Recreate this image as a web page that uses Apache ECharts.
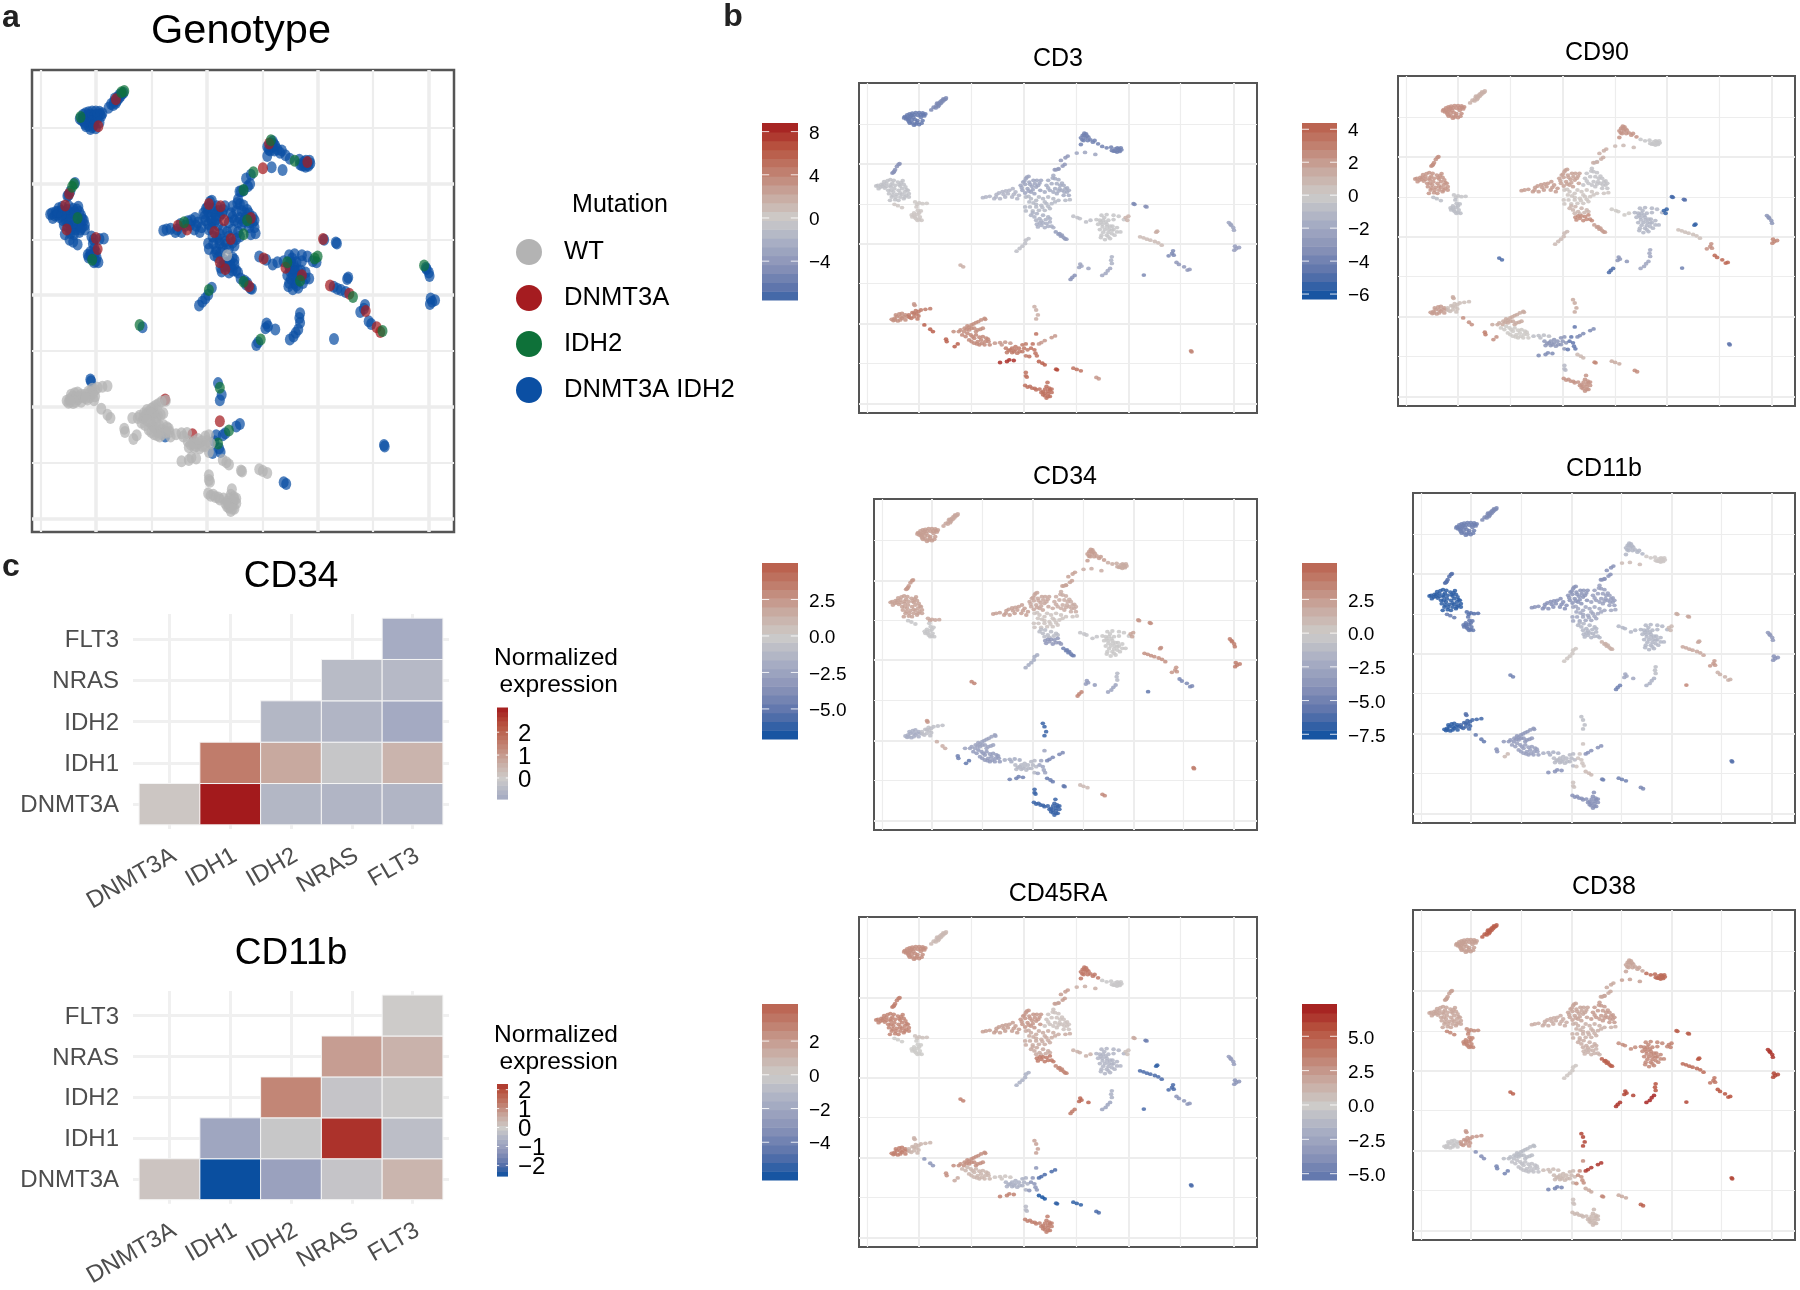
<!DOCTYPE html>
<html><head><meta charset="utf-8">
<style>html,body{margin:0;padding:0;background:#fff}#c{width:1800px;height:1290px}</style>
<script src="https://cdn.jsdelivr.net/npm/echarts@6/dist/echarts.min.js"></script>
</head><body><div id="c"></div>
<script>
// UMAP cell groups: flat x,y pairs (UMAP axes use the same units)
const clusterPoints = [
/*A1*/[598,232,590,235,585,240,580,245,575,250,570,255,562,260,555,268,583,248,575,258,592,238,588,243,578,253,568,262,596,236,572,248],
/*A2*/[478,288,485,283,492,280,500,278,510,276,520,276,530,277,538,280,482,295,490,293,498,298,490,303,500,307,510,310,520,312,527,308,503,290,525,290,535,286,515,300,495,288,485,290,506,283,516,284,532,282,493,308,505,314,514,306,530,300,497,284,476,292,524,283,508,297,488,298],
/*B1*/[460,432,455,438,447,453,442,458,450,448,463,430,445,456],
/*B2*/[395,497,402,505,410,492,418,484,425,490,436,478,442,488,450,495,458,485,468,487,475,492,480,500,487,510,490,520,478,515,470,505,460,510,448,505,438,500,430,510,420,503,432,520,440,530,435,540,450,538,465,530,475,535,490,530,455,522,445,515,408,500,465,497,400,495,414,498,428,481,437,494,446,480,462,493,472,481,483,508,465,518,452,530,438,510,426,498,470,522,482,525,443,524,478,530,460,540,416,492],
/*B3a*/[508,545,520,548,530,550,542,549,514,552],
/*B3b*/[448,552,458,556,470,562,512,560,516,570,525,572,505,578,515,582,522,590,500,590,510,595,520,598,527,600,505,585,520,578,508,590,515,600,498,584],
/*Carm*/[705,532,714,530,725,528,738,535,745,522,752,518,762,514,772,512,782,510,792,505,800,515,810,525,770,530,755,535,790,530,805,535,765,522,778,520,795,522,743,530],
/*Cup*/[838,468,830,475,822,485,815,495,828,492,840,485,852,480,862,480,870,488,848,498,835,505,860,500,820,510,845,515,872,510,855,520,833,470,826,482,842,492,818,502,856,490,866,495,838,512,828,518,850,508,874,480],
/*Cupr*/[925,445,918,448,910,465,915,475,925,478,895,480,905,490,890,495,930,495,940,495,945,505,950,515,955,525,935,510,915,505,900,510,885,515,920,520,940,525,920,490,908,473,935,488,928,505,950,503,910,515,895,503,955,510,942,515,925,512],
/*Cmid*/[830,530,845,535,860,540,880,535,895,530,910,535,925,540,945,540,905,550,890,550,875,555,860,560,840,545,828,560,830,572,850,572,868,570,885,570,900,565,838,528,852,548,868,530,885,545,915,545,895,558,878,562,842,560,860,552,958,538],
/*Clow*/[845,585,855,590,860,600,870,595,880,585,895,590,850,578,862,580,875,602,888,598,900,595],
/*Clow2*/[900,605,890,610,875,615,865,620,885,622,905,618,870,608,880,608,895,618,910,622,862,612],
/*Cdiag*/[917,635,925,642,932,648,940,652,948,657,935,645,928,640,944,656],
/*Ctail*/[952,407,945,412,932,420,943,432,937,437,925,446,914,448],
/*T1*/[1000,338,1005,340,995,345,990,352,1003,352,1012,350,998,360,990,372,1010,360,1025,365,1030,360,1040,370,1000,345,1008,346,994,358,1018,358],
/*T2*/[1052,378,1065,382,1078,380,1080,390,1090,385,1100,385,1108,388,1095,395,1085,392,1103,393,1096,382,1106,382,1090,392,1100,390],
/*T3*/[978,398,1002,396,1032,402],
/*D0*/[968,588,980,592,987,595,1005,605,1018,600],
/*D1*/[1050,585,1065,583,1085,585,1035,598,1045,600,1055,600,1070,600,1085,598,1040,612,1052,612,1065,612,1082,618,1045,628,1060,628,1072,628,1085,628,1095,622,1050,645,1065,645,1080,640,1095,635,1105,635,1060,658,1075,655,1058,592,1048,606,1062,606,1075,618,1053,620,1066,620,1080,630,1055,636,1070,637,1088,645,1048,652,1070,650,1100,588,1115,598],
/*D2*/[1128,588,1120,592,1125,600],
/*E1*/[1143,550,1146,552],
/*E2*/[1178,558,1181,560],
/*F*/[1212,633,1209,636],
/*G*/[1162,650,1172,653,1182,657,1192,660,1205,664,1215,668,1225,675],
/*H*/[1258,692,1255,700,1245,707,1260,705],
/*I*/[1268,727,1275,733,1290,740,1300,750,1306,748],
/*J1*/[1420,607,1427,615,1433,622,1435,630,1425,612],
/*J2*/[1438,678,1442,685,1450,682,1436,690],
/*K*/[838,655,830,660,828,670,820,678,812,685,803,693],
/*L*/[640,735,648,740],
/*M1*/[988,732,992,738,985,742,1012,745],
/*M2*/[972,766,965,772,960,778],
/*N1*/[1080,710,1078,720,1080,730],
/*N2*/[1075,745,1068,752,1062,760,1052,766],
/*O*/[1173,765],
/*P0*/[505,852,507,856],
/*P1*/[440,898,448,895,455,890,462,882,470,880,480,885,470,895,458,903,480,900,445,902,452,885,465,890,475,890,465,900,486,890,450,900],
/*P2*/[490,885,500,878,510,872,518,875,525,870,538,868,552,866,505,890,515,897,497,895,505,880,512,882,518,888,492,892],
/*Q*/[535,915,552,928,560,935],
/*R1*/[598,958,600,965],
/*R2*/[623,980,632,972],
/*S1*/[710,895,700,900,685,908,672,915,660,918,652,925,635,935,620,935,650,935,665,930,680,925,690,930,705,925,692,905,678,912,665,922,640,930,658,928,672,925,698,928,685,935,712,898],
/*S2*/[645,945,655,950,670,945,680,955,690,965,705,950,715,955,722,965,710,975,695,975,680,970,725,975,700,960,665,960,660,940,675,950,685,945,695,952,712,965,702,970,688,972,720,958,672,965],
/*U*/[740,970,755,968,770,967,785,970,760,975],
/*V*/[772,985,780,992,790,985,800,990,810,985,820,975,830,972,775,998,790,998,805,1000,820,995,835,990,830,1008,785,990,795,995,812,995,825,985,800,980],
/*W*/[755,1028,775,1025,782,1020,795,1022],
/*X*/[860,942,850,972,845,985,855,990,858,1000,840,1010,862,1008],
/*Y*/[915,948,905,953,885,962,875,968,868,972],
/*Z*/[855,860,860,870,865,885,860,897],
/*a1*/[868,1025,878,1030,885,1035],
/*a2*/[918,1048,921,1050],
/*a3*/[968,1045,978,1049,990,1053],
/*a4*/[1035,1073,1042,1077],
/*b*/[1310,993,1312,996],
/*c1*/[830,1058,830,1068,833,1072],
/*c2*/[828,1097,835,1102,848,1105,860,1110,870,1108,880,1115,893,1088,890,1100,900,1110,905,1118,895,1122,885,1128,890,1135,900,1130,880,1125,898,1105,886,1108,894,1114,885,1120,895,1130,905,1108,875,1118,842,1100,856,1106]
];
// Genotype of each point (W=WT R=DNMT3A G=IDH2 B=DNMT3A IDH2); the last letter carries on to the remaining points of a group
const genotypeCodes = [
"GGBBRBBBBBB","GBBBBBBBBBBBBBBRBBB","GGRBB","BBBBBRBBBBBBBBBGBBBBBBRBBBBBBBBB","BRB","BBBBBRBBBBGBBB",
"BBBBRBGBBBBBRBBB","BRBBBBBRBBBBBBRB","GBBBBBBBBBRBBGBBBBB","BRBBBBGBBRBBBBBBBBB","BBRBWB","BBRBBBB","BGBRBB","GBBBB",
"GBRBBBBBBBBB","BGBBBRBBBB","RBB","BRBBB","BBBBGBBBRBBBBBBRBBBGBBBB","GGB","RB","BB","BB","RBBBBRG","BBBR","BBRRG","GBBBB","BBBB","BGBBBB","GB","BBBB","GBB","BBB","BBBB","B",
"BB","W","W","W","W","W","RW","WWWWWWWWBW","WWWRW","W","W","RBBGBBB","BBGBB","BGBB","W","W","W","BB","BB","W","W"
];
// Marker expression per cell group, same order as clusterPoints
const CD3vals   = [-5,-6,-4.5,-.8,.2,.3,-1.8,-3,-2.5,-1.5,-2,-2.2,-3.8,-4,-5.5,-5.5,-3,-1,-.5,1.5,-5,-4.5,2,1,-5,-4,-3,-3.5,-1,1.8,-3,-4.5,-2,-2.8,-5,3,3.5,4.5,6,6,6,3.5,3.8,3,4.5,8,5,3,1.8,6,7,5,3,4,5,5];
const CD90vals  = [1.2,2.4,2.5,2.2,-.4,-.8,2,1.8,-.5,.3,1,2.6,2,1.3,2.3,-.3,.8,.1,-1.2,-5.5,-5.2,-4.8,-5.5,.6,2.4,4,-3,2.8,.8,-5,-3,-5,-2,-2.2,-4,1.5,2,.6,2.5,3.2,2.5,1.5,.1,-.8,-3,-3.5,-4.5,-3.5,1.5,.9,2.8,1.5,2.6,-4.5,-1,2.3];
const CD34vals  = [1.8,2.2,2.4,2,1.8,-.4,2.1,1.8,1.5,.4,-1,-3.2,-4.5,2,2.2,1.6,1.5,-.5,-.2,2,2.5,2.8,2.8,2.8,2.5,-4,3.5,3.5,-2,3.2,-3,3.2,-1.2,-2.5,-5,2.5,-1.8,-.8,1.5,-4.5,-5,-2.5,-3,-2,-1.2,-4.5,-2.5,-4,-6,-4.8,-5,1,3,3.5,-6,-6];
const CD11bvals = [-4.5,-5,-6,-7,-6,-5.5,-4,-3.8,-3,-2.5,-1.5,-1.5,1.5,-4,-1.5,.2,.9,-1.5,-1.5,1,1.8,2,2,2,2.6,1.5,-3.5,-4,.3,-5,-2.5,-5,-1,-1.8,3.5,-6,-7,-6.5,-5.5,-4,1,-3.5,-3,-2,-1.2,-4,.5,-4,-1,1,-5,-5,-4.5,-6,.5,-4];
const CD45RAvals= [.8,2.5,3,2.8,.5,0,1.9,2.2,.4,1.4,1.5,3.2,2.8,2,3.3,-.2,1.3,1.2,-1.2,.5,1.5,-4,-5.5,-5,-5,-3,-2.5,-3,-1.5,3,4,3.2,-1.5,-2.2,-5,1.2,3,1,-3,2.5,1.5,2.5,1,.3,-1.5,3,-3,-5,1.8,-6,-5.5,-5.5,-5,-5,-1,3];
const CD38vals  = [5,2.2,2.2,1.9,3,3.3,1.6,2,2.4,1.4,1.5,1.2,5,1.8,2,4.5,2.2,3,3.2,3.5,5,5,5.5,4.5,4,5.5,6.5,6,.3,5,6,6.5,5.5,7,6,2.5,-.3,2.5,-4,-4.5,-4.5,-1,-.7,.8,1,-4.5,3,6.5,6,1.8,3.2,1.8,5,6,.5,1];
// UMAP axes
const umapXMajor=[520,825,1129,1433], umapXMinor=[369,672,977,1280];
const umapYMajor=[431,670,911,1152], umapYMinor=[311,551,791,1031];
// Mutation legend
const mutationNames=["WT","DNMT3A","IDH2","DNMT3A IDH2"];
const mutationCodes=["W","R","G","B"];
const mutationColors=["#B3B3B3","#A51C20","#0E7139","#0B4FA3"];
// Heatmaps
const genes=["DNMT3A","IDH1","IDH2","NRAS","FLT3"];
const heatCD34=[[0,0,.1],[1,0,3.08],[2,0,-.55],[3,0,-.6],[4,0,-.6],[1,1,1.55],[2,1,.75],[3,1,-.15],[4,1,.5],[2,2,-.55],[3,2,-.6],[4,2,-.9],[3,3,-.45],[4,3,-.5],[4,4,-.85]];
const heatCD11b=[[0,0,.12],[1,0,-2.56],[2,0,-.95],[3,0,-.15],[4,0,.4],[1,1,-.85],[2,1,-.1],[3,1,2.3],[4,1,-.3],[2,2,1.15],[3,2,-.15],[4,2,-.05],[3,3,.8],[4,3,.45],[4,4,0]];
// Colour bar limits and ticks [low, high], tick values
const barCD3=[-7.6,8.8], ticksCD3=[-4,0,4,8];
const barCD90=[-6.3,4.38], ticksCD90=[-6,-4,-2,0,2,4];
const barCD34=[-7.06,5], ticksCD34=[-5,-2.5,0,2.5];
const barCD11b=[-7.85,5.2], ticksCD11b=[-7.5,-5,-2.5,0,2.5];
const barCD45RA=[-6.24,4.2], ticksCD45RA=[-4,-2,0,2];
const barCD38=[-5.46,7.35], ticksCD38=[-5,-2.5,0,2.5,5];
const barHeat34=[-.92,3.08], ticksHeat34=[0,1,2];
const barHeat11b=[-2.56,2.3], ticksHeat11b=[-2,-1,0,1,2];

const REDS=[[205,203,201],[200,168,158],[192,125,108],[184,84,64],[163,26,28]];
const BLUES=[[205,203,201],[169,175,196],[138,147,184],[90,114,171],[10,79,160]];
function scaleColor(v,lim){
  const s=v>=0?REDS:BLUES; const t=Math.min(1,Math.abs(v)/lim)*4; const i=Math.min(3,Math.floor(t)); const f=t-i;
  const c=[0,1,2].map(k=>Math.round(s[i][k]+(s[i+1][k]-s[i][k])*f));
  return `rgb(${c[0]},${c[1]},${c[2]})`;
}
const minus=s=>String(s).replace('-','\u2212');
const grid=[],xAxis=[],yAxis=[],series=[],graphic=[];
const FONT='"Liberation Sans",Arial,sans-serif';
function txt(t,x,y,size,opt){opt=opt||{};graphic.push({type:'text',z:50,style:{text:t,x,y,fill:opt.fill||'#000',textAlign:opt.align||'center',textVerticalAlign:'middle',font:`${opt.weight||'normal'} ${size}px ${FONT}`}});}
function addAxis(list,gi,base){const idx=list.length;list.push(Object.assign({gridIndex:gi,type:'value',axisLine:{show:false},axisTick:{show:false},axisLabel:{show:false},splitLine:{show:false}},base));return idx;}
function umapGrid(rect,mw,nw,bw){
  const gi=grid.length;
  grid.push({left:rect[0],top:rect[1],width:rect[2]-rect[0],height:rect[3]-rect[1],show:true,borderColor:'#555',borderWidth:bw,backgroundColor:'#fff'});
  const gl=(w)=>({show:true,lineStyle:{color:'#EDEDED',width:w}});
  const xr={min:345,max:1502},yr={min:187,max:1180,inverse:true};
  const x0=addAxis(xAxis,gi,Object.assign({},xr,{axisTick:{show:false,customValues:umapXMajor},splitLine:gl(mw)}));
  addAxis(xAxis,gi,Object.assign({},xr,{axisTick:{show:false,customValues:umapXMinor},splitLine:gl(nw)}));
  const y0=addAxis(yAxis,gi,Object.assign({},yr,{axisTick:{show:false,customValues:umapYMajor},splitLine:gl(mw)}));
  addAxis(yAxis,gi,Object.assign({},yr,{axisTick:{show:false,customValues:umapYMinor},splitLine:gl(nw)}));
  return [x0,y0];
}
function colorBar(rect,lim,ticks,fs,dec,scaleLim,gap){
  const gi=grid.length;
  grid.push({left:rect[0],top:rect[1],width:rect[2]-rect[0],height:rect[3]-rect[1]});
  const x=addAxis(xAxis,gi,{min:0,max:1});
  const y=addAxis(yAxis,gi,{min:lim[0],max:lim[1]});
  const N=20,bands=[];
  for(let i=0;i<N;i++){const lo=lim[0]+(lim[1]-lim[0])*i/N,hi=lim[0]+(lim[1]-lim[0])*(i+1)/N;bands.push([lo,hi,scaleColor((lo+hi)/2,scaleLim)]);}
  series.push({type:'custom',xAxisIndex:x,yAxisIndex:y,silent:true,clip:false,encode:{y:[0,1]},data:bands,
    renderItem:(p,api)=>{const a=api.coord([0,api.value(0)]),b=api.coord([1,api.value(1)]);
      return {type:'rect',shape:{x:a[0],y:b[1],width:b[0]-a[0],height:a[1]-b[1]+.6},style:{fill:bands[p.dataIndex][2]}};}});
  series.push({type:'custom',xAxisIndex:x,yAxisIndex:y,silent:true,clip:false,z:3,encode:{y:0},data:ticks.map(t=>[t]),
    renderItem:(p,api)=>{const a=api.coord([0,api.value(0)]),b=api.coord([1,api.value(0)]);const L=(b[0]-a[0])/5;
      const st={stroke:'#fff',lineWidth:1,fill:'none',opacity:.85};
      const v=api.value(0);
      return {type:'group',children:[
        {type:'line',shape:{x1:a[0],y1:a[1],x2:a[0]+L,y2:a[1]},style:st},
        {type:'line',shape:{x1:b[0]-L,y1:a[1],x2:b[0],y2:a[1]},style:st},
        {type:'text',style:{text:minus(dec?v.toFixed(dec):v),x:b[0]+gap,y:a[1]+2,fill:'#000',textAlign:'left',textVerticalAlign:'middle',font:`${fs}px ${FONT}`}}
      ]};}});
}
function markerPanel(name,vals,rect,tx,ty,barRect,lim,ticks,dec){
  const [x,y]=umapGrid(rect,2,1.2,2);
  const maxAbs=Math.max(Math.abs(lim[0]),Math.abs(lim[1]));
  const data=[];
  clusterPoints.forEach((pts,c)=>{for(let i=0;i<pts.length;i+=2)data.push([pts[i],pts[i+1],vals[c]]);});
  series.push({type:'scatter',xAxisIndex:x,yAxisIndex:y,symbolSize:[4.6,3.8],silent:true,z:4,data,
    itemStyle:{opacity:.85,color:p=>scaleColor(p.value[2],maxAbs)}});
  txt(name,tx,ty,25);
  colorBar(barRect,lim,ticks,19,dec,maxAbs,11);
}
// Panel a
(function(){
  const [x,y]=umapGrid([32,70,454,532],3.5,2.2,2.5);
  const zs={B:4,R:5,G:5,W:6};
  const codeAt=(c,k)=>{const s=genotypeCodes[c];return s[Math.min(k,s.length-1)];};
  mutationNames.forEach((nm,m)=>{
    const data=[];
    clusterPoints.forEach((pts,c)=>{for(let i=0;i<pts.length;i+=2){if(codeAt(c,i/2)===mutationCodes[m])data.push([pts[i],pts[i+1]]);}});
    series.push({name:nm,type:'scatter',xAxisIndex:x,yAxisIndex:y,symbolSize:[10,12],silent:true,z:zs[mutationCodes[m]],data,itemStyle:{color:mutationColors[m],opacity:.72}});
  });
})();
txt('Genotype',241,32,41.5);
txt('Mutation',620,205,25);
txt('a',11,18,32,{weight:'bold',fill:'#222'});
txt('b',733,17,32,{weight:'bold',fill:'#222'});
txt('c',11,567,32,{weight:'bold',fill:'#222'});
// Panel b
markerPanel('CD3',CD3vals,[859,83,1257,413],1058,59,[762,123,798,300],barCD3,ticksCD3,0);
markerPanel('CD90',CD90vals,[1398,76,1795,406],1597,53,[1302,123,1337,299],barCD90,ticksCD90,0);
markerPanel('CD34',CD34vals,[874,499,1257,830],1065,477,[762,563,798,739],barCD34,ticksCD34,1);
markerPanel('CD11b',CD11bvals,[1413,493,1795,823],1604,469,[1302,563,1337,739],barCD11b,ticksCD11b,1);
markerPanel('CD45RA',CD45RAvals,[859,917,1257,1247],1058,894,[762,1004,798,1180],barCD45RA,ticksCD45RA,0);
markerPanel('CD38',CD38vals,[1413,910,1795,1240],1604,887,[1302,1004,1337,1180],barCD38,ticksCD38,1);
// Panel c
function heatPanel(name,vals,top,ty,barRect,lim,ticks,ny){
  const gi=grid.length;
  grid.push({left:133,top,width:316,height:215});
  const gl={show:true,lineStyle:{color:'#F0F0F0',width:3}};
  const x=addAxis(xAxis,gi,{min:-.6,max:4.6,axisTick:{show:false,customValues:[0,1,2,3,4]},splitLine:gl,
    axisLabel:{show:true,customValues:[.08,1.08,2.08,3.08,4.08],color:'#4D4D4D',fontSize:24,fontFamily:FONT,margin:25,rotate:30,formatter:v=>genes[Math.round(v)]}});
  const y=addAxis(yAxis,gi,{min:-.6,max:4.6,axisTick:{show:false,customValues:[0,1,2,3,4]},splitLine:gl,
    axisLabel:{show:true,customValues:[-.035,.965,1.965,2.965,3.965],color:'#4D4D4D',fontSize:24,fontFamily:FONT,margin:14,formatter:v=>genes[Math.round(v)]}});
  const maxAbs=Math.max(Math.abs(lim[0]),Math.abs(lim[1]));
  series.push({type:'custom',xAxisIndex:x,yAxisIndex:y,silent:true,z:3,encode:{x:0,y:1},data:vals,
    renderItem:(p,api)=>{const c=api.coord([api.value(0),api.value(1)]),s=api.size([1,1]);
      return {type:'rect',shape:{x:c[0]-s[0]/2,y:c[1]-s[1]/2,width:s[0],height:s[1]},style:{fill:scaleColor(api.value(2),maxAbs),stroke:'#F4F4F4',lineWidth:1}};}});
  txt(name,291,ty,37);
  txt('Normalized',618,ny,24.5,{align:'right'});
  txt('expression',618,ny+27,24.5,{align:'right'});
  colorBar(barRect,lim,ticks,24,0,maxAbs,10);
}
heatPanel('CD34',heatCD34,614,577,[497,707.5,508,799],barHeat34,ticksHeat34,658);
heatPanel('CD11b',heatCD11b,991,954,[497,1084,508,1176],barHeat11b,ticksHeat11b,1035);

const chart=echarts.init(document.getElementById('c'),null,{renderer:'canvas',width:1800,height:1290});
chart.setOption({animation:false,backgroundColor:'#fff',grid,xAxis,yAxis,series,graphic,
  legend:{data:mutationNames,orient:'vertical',left:511,top:234,itemWidth:26,itemHeight:26,itemGap:20,icon:'circle',
    itemStyle:{opacity:1},textStyle:{fontSize:25.6,fontFamily:FONT,color:'#000',padding:[0,0,0,17]},selectedMode:false}
});
</script></body></html>
